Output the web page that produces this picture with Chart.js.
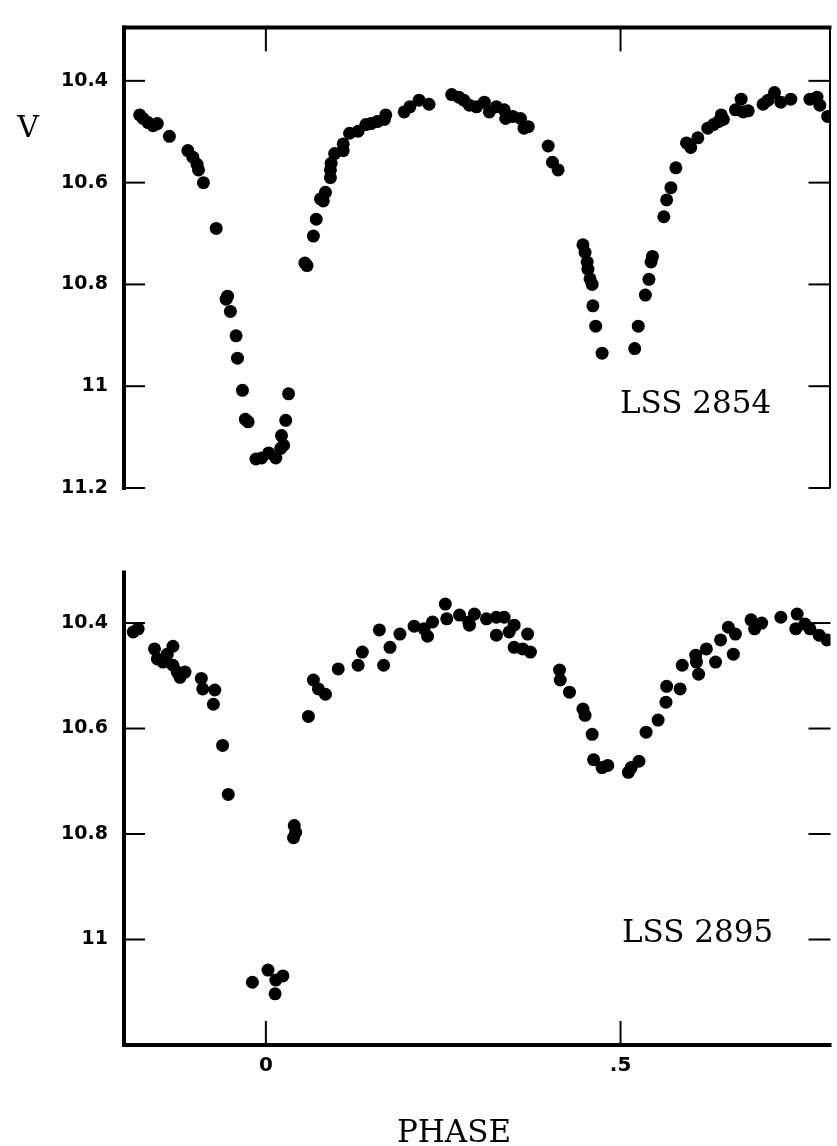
<!DOCTYPE html>
<html>
<head>
<meta charset="utf-8">
<script src="https://cdn.jsdelivr.net/npm/chart.js@4.4.0/dist/chart.umd.min.js"></script>
<style>
  html, body { margin: 0; padding: 0; background: #fff; }
  #wrap { position: relative; width: 837px; height: 1146px; overflow: hidden; }
  .panel { position: absolute; left: 0; width: 837px; }
</style>
</head>
<body>
<div id="wrap">
  <div class="panel" style="top:0;height:545px"><canvas id="lss2854"></canvas></div>
  <div class="panel" style="top:545px;height:601px"><canvas id="lss2895"></canvas></div>
</div>
<script>
// LSS 2854 light curve (phase, V)
const phase2854 = [
  -0.178, -0.173, -0.166, -0.159, -0.153, -0.136, -0.110, -0.103, -0.097, -0.095,
  -0.088, -0.070, -0.056, -0.054, -0.050, -0.042, -0.040, -0.033, -0.029, -0.025,
  -0.014, -0.006, 0.004, 0.014, 0.021, 0.022, 0.025, 0.028, 0.032, 0.055,
  0.058, 0.067, 0.071, 0.077, 0.081, 0.084, 0.091, 0.091, 0.092, 0.097,
  0.109, 0.109, 0.118, 0.130, 0.141, 0.148, 0.157, 0.167, 0.169, 0.195,
  0.203, 0.216, 0.230, 0.262, 0.272, 0.279, 0.287, 0.297, 0.308, 0.315,
  0.325, 0.336, 0.338, 0.348, 0.359, 0.364, 0.370, 0.398, 0.404, 0.412,
  0.447, 0.450, 0.453, 0.454, 0.457, 0.460, 0.461, 0.465, 0.474, 0.520,
  0.525, 0.535, 0.540, 0.543, 0.545, 0.561, 0.565, 0.571, 0.578, 0.593,
  0.599, 0.609, 0.623, 0.631, 0.638, 0.642, 0.645, 0.662, 0.670, 0.673,
  0.680, 0.701, 0.708, 0.717, 0.726, 0.740, 0.767, 0.777, 0.781, 0.792
];
const v2854 = [
  10.467, 10.474, 10.482, 10.488, 10.484, 10.509, 10.537, 10.550, 10.564, 10.575,
  10.600, 10.690, 10.829, 10.823, 10.853, 10.901, 10.945, 11.008, 11.065, 11.070,
  11.143, 11.141, 11.131, 11.141, 11.122, 11.097, 11.116, 11.067, 11.015, 10.758,
  10.763, 10.705, 10.672, 10.632, 10.636, 10.619, 10.590, 10.575, 10.562, 10.543,
  10.537, 10.524, 10.503, 10.499, 10.486, 10.484, 10.480, 10.476, 10.467, 10.461,
  10.451, 10.438, 10.446, 10.427, 10.432, 10.438, 10.448, 10.451, 10.442, 10.461,
  10.451, 10.457, 10.474, 10.470, 10.474, 10.493, 10.490, 10.528, 10.560, 10.575,
  10.722, 10.737, 10.756, 10.770, 10.789, 10.800, 10.842, 10.882, 10.935, 10.926,
  10.882, 10.821, 10.790, 10.756, 10.745, 10.667, 10.634, 10.610, 10.571, 10.522,
  10.531, 10.512, 10.493, 10.486, 10.480, 10.467, 10.476, 10.457, 10.436, 10.461,
  10.459, 10.446, 10.438, 10.423, 10.442, 10.436, 10.436, 10.432, 10.448, 10.470
];

// LSS 2895 light curve (phase, V)
const phase2895 = [
  -0.187, -0.180, -0.157, -0.153, -0.145, -0.139, -0.131, -0.131, -0.125, -0.121,
  -0.114, -0.091, -0.089, -0.074, -0.072, -0.061, -0.053, -0.019, 0.003, 0.013,
  0.014, 0.024, 0.039, 0.040, 0.042, 0.060, 0.067, 0.074, 0.084, 0.102,
  0.130, 0.136, 0.160, 0.166, 0.175, 0.189, 0.209, 0.223, 0.228, 0.235,
  0.253, 0.255, 0.273, 0.286, 0.287, 0.294, 0.311, 0.325, 0.325, 0.336,
  0.343, 0.350, 0.350, 0.362, 0.369, 0.373, 0.414, 0.415, 0.428, 0.447,
  0.450, 0.460, 0.462, 0.474, 0.482, 0.511, 0.515, 0.526, 0.536, 0.553,
  0.564, 0.565, 0.584, 0.587, 0.606, 0.607, 0.610, 0.621, 0.634, 0.641,
  0.652, 0.659, 0.662, 0.684, 0.689, 0.699, 0.726, 0.747, 0.749, 0.760,
  0.767, 0.780, 0.791
];
const v2895 = [
  10.417, 10.411, 10.449, 10.468, 10.474, 10.459, 10.444, 10.480, 10.493, 10.503,
  10.493, 10.505, 10.525, 10.554, 10.527, 10.632, 10.725, 11.081, 11.058, 11.103,
  11.077, 11.069, 10.807, 10.784, 10.797, 10.577, 10.508, 10.525, 10.535, 10.487,
  10.480, 10.455, 10.413, 10.480, 10.446, 10.421, 10.406, 10.411, 10.425, 10.398,
  10.364, 10.392, 10.385, 10.398, 10.404, 10.383, 10.392, 10.389, 10.423, 10.389,
  10.417, 10.404, 10.446, 10.449, 10.421, 10.455, 10.489, 10.508, 10.531, 10.563,
  10.575, 10.611, 10.659, 10.674, 10.670, 10.683, 10.674, 10.662, 10.607, 10.584,
  10.550, 10.520, 10.525, 10.480, 10.461, 10.474, 10.497, 10.449, 10.474, 10.432,
  10.408, 10.459, 10.421, 10.394, 10.411, 10.400, 10.389, 10.411, 10.383, 10.402,
  10.411, 10.423, 10.432
];

const phaseTicks = [0, 0.5];
const phaseTickLabels = ['0', '.5'];
const vTicksTop = [10.4, 10.6, 10.8, 11, 11.2];
const vTickLabelsTop = ['10.4', '10.6', '10.8', '11', '11.2'];
const vTicksBottom = [10.4, 10.6, 10.8, 11];
const vTickLabelsBottom = ['10.4', '10.6', '10.8', '11'];

const toPoints = (xs, ys) => xs.map((x, i) => ({ x: x, y: ys[i] }));

// frame, inward ticks and free text labels
const framePlugin = {
  id: 'frame',
  afterDatasetsDraw(chart, args, o) {
    const { ctx, chartArea: a, scales: { x, y } } = chart;
    const line = (x1, y1, x2, y2, w) => {
      ctx.lineWidth = w;
      ctx.beginPath();
      ctx.moveTo(x1, y1);
      ctx.lineTo(x2, y2);
      ctx.stroke();
    };
    ctx.save();
    ctx.strokeStyle = '#000';
    line(a.left, a.top - 2, a.left, a.bottom + 2, 4);
    if (o.top) line(a.left - 2, a.top, a.right + 1, a.top, 4);
    if (o.bottom) line(a.left - 2, a.bottom, a.right + 1, a.bottom, 4);
    if (o.right) line(a.right - 0.5, a.top, a.right - 0.5, a.bottom, 2);
    o.vTicks.forEach(v => {
      const py = y.getPixelForValue(v);
      line(a.left, py, a.left + 21, py, 2);
      line(a.right, py, a.right - 22, py, 2);
    });
    phaseTicks.forEach(v => {
      const px = x.getPixelForValue(v);
      if (o.top) line(px, a.top, px, a.top + 24, 2);
      else line(px, a.bottom, px, a.bottom - 24, 2);
    });
    ctx.fillStyle = '#000';
    ctx.textBaseline = 'alphabetic';
    (o.texts || []).forEach(t => {
      ctx.font = t.size + 'px "DejaVu Serif"';
      ctx.textAlign = t.align;
      ctx.fillText(t.text, t.x, t.y);
    });
    ctx.restore();
  }
};

function makeChart(id, xs, ys, vTicks, vLabels, yMin, pad, showX, frame) {
  return new Chart(document.getElementById(id), {
    type: 'scatter',
    data: {
      datasets: [{
        data: toPoints(xs, ys),
        backgroundColor: '#000',
        borderWidth: 0,
        pointRadius: 6.5,
        pointHoverRadius: 6.5
      }]
    },
    options: {
      responsive: true,
      maintainAspectRatio: false,
      animation: false,
      events: [],
      layout: { padding: pad },
      plugins: { legend: { display: false }, tooltip: { enabled: false }, frame: frame },
      scales: {
        x: {
          type: 'linear',
          min: -0.2,
          max: 0.796,
          display: showX,
          afterBuildTicks: s => { s.ticks = phaseTicks.map(v => ({ value: v })); },
          afterFit: s => { if (showX) s.height = 101; },
          grid: { display: false, drawTicks: false },
          border: { display: false },
          ticks: {
            autoSkip: false,
            maxRotation: 0,
            padding: 9,
            color: '#000',
            font: { family: 'DejaVu Sans', size: 20, weight: 'bold' },
            callback: (v, i) => phaseTickLabels[i]
          }
        },
        y: {
          type: 'linear',
          reverse: true,
          min: yMin,
          max: 11.2,
          afterBuildTicks: s => { s.ticks = vTicks.map(v => ({ value: v })); },
          afterFit: s => { s.width = 124; },
          grid: { display: false, drawTicks: false },
          border: { display: false },
          ticks: {
            autoSkip: false,
            padding: 16,
            color: '#000',
            font: { family: 'DejaVu Sans', size: 19, weight: 'bold' },
            callback: (v, i) => vLabels[i]
          }
        }
      }
    },
    plugins: [framePlugin]
  });
}

makeChart('lss2854', phase2854, v2854, vTicksTop, vTickLabelsTop, 10.295,
  { top: 13, right: 1, bottom: 57, left: 0 }, false,
  { top: true, right: true, bottom: false, vTicks: vTicksTop,
    texts: [
      { text: 'V', x: 28, y: 137, size: 30, align: 'center' },
      { text: 'LSS 2854', x: 620, y: 413, size: 31, align: 'left' }
    ] });

makeChart('lss2895', phase2895, v2895, vTicksBottom, vTickLabelsBottom, 10.304,
  { top: 25, right: 1, bottom: 0, left: 0 }, true,
  { top: false, right: false, bottom: true, vTicks: vTicksBottom,
    texts: [
      { text: 'LSS 2895', x: 622, y: 397, size: 31, align: 'left' },
      { text: 'PHASE', x: 454, y: 597, size: 31, align: 'center' }
    ] });
</script>
</body>
</html>
